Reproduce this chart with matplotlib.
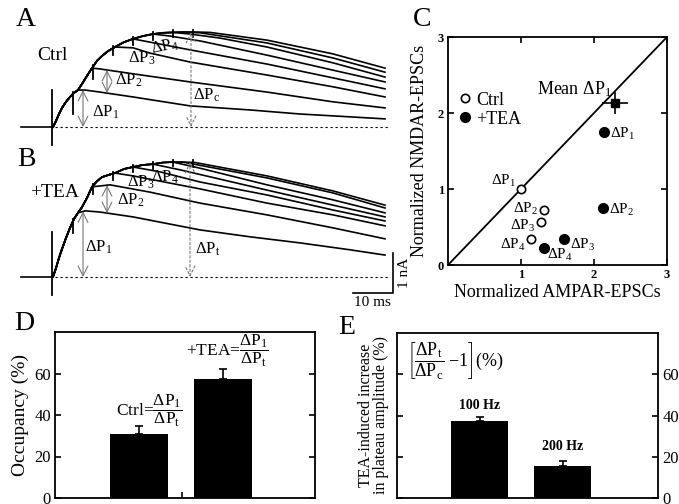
import numpy as np
import matplotlib
matplotlib.use('Agg')
import matplotlib.pyplot as plt

plt.rcParams['font.family'] = 'Liberation Serif'
plt.rcParams['mathtext.fontset'] = 'custom'
plt.rcParams['mathtext.rm'] = 'Liberation Serif'
plt.rcParams['mathtext.it'] = 'Liberation Serif:italic'
plt.rcParams['mathtext.bf'] = 'Liberation Serif:bold'

# ---- panel A / B : ctrl and +TEA current traces (time in ms, current in nA)
env_t = [0, 0.75, 1.5, 2.25, 3.25, 4.25, 5.25, 6.25, 7.25, 8.5, 9.75, 11, 12.25,
         13.75, 15.5, 17.75, 20, 22.5, 25, 27.5, 30, 32.5, 35.5]
envA_i = [0, 0.15, 0.32, 0.47, 0.62, 0.74, 0.84, 0.91, 1.06, 1.26, 1.45, 1.63, 1.75,
          1.87, 1.97, 2.09, 2.17, 2.24, 2.29, 2.32, 2.33, 2.34, 2.34]
envB_i = [0, 0.22, 0.47, 0.69, 0.96, 1.21, 1.43, 1.58, 1.72, 1.95, 2.22, 2.36, 2.46,
          2.51, 2.56, 2.66, 2.71, 2.76, 2.78, 2.82, 2.83, 2.83, 2.82]
branch_idx = [7, 10, 14, 16, 18, 20, 21, 22]

decA_t = [[8, 11.75, 20, 34.25, 49.25, 61.75, 74.25, 83],
          [11.75, 20, 34.25, 53.5, 70, 83],
          [20, 24.25, 34.25, 53.5, 70, 83],
          [24.25, 34.25, 53.5, 70, 83],
          [29.25, 36.75, 53.5, 70, 83],
          [34.25, 41.75, 53.5, 70, 83],
          [36.75, 53.5, 70, 83],
          [39.25, 53.5, 70, 83]]
decA_i = [[0.91, 0.86, 0.74, 0.52, 0.42, 0.32, 0.25, 0.20],
          [1.43, 1.31, 1.11, 0.86, 0.62, 0.47],
          [1.95, 1.82, 1.60, 1.28, 0.99, 0.74],
          [2.09, 1.90, 1.55, 1.21, 0.94],
          [2.24, 2.12, 1.77, 1.40, 1.11],
          [2.29, 2.19, 1.97, 1.58, 1.23],
          [2.32, 2.07, 1.70, 1.35],
          [2.33, 2.14, 1.80, 1.45]]
decB_t = [[8, 11.75, 20, 36.75, 49.25, 61.75, 74.25, 83],
          [14.25, 24.25, 36.75, 53.5, 70, 83],
          [20, 36.75, 53.5, 70, 83],
          [26.75, 36.75, 53.5, 70, 83],
          [31.75, 53.5, 70, 83],
          [36.75, 53.5, 70, 83],
          [53.5, 70, 83],
          [53.5, 70, 83]]
decB_i = [[1.63, 1.60, 1.48, 1.16, 0.99, 0.84, 0.67, 0.54],
          [2.27, 2.09, 1.82, 1.53, 1.21, 0.94],
          [2.49, 2.17, 1.82, 1.53, 1.26],
          [2.59, 2.34, 2.02, 1.65, 1.38],
          [2.64, 2.14, 1.77, 1.48],
          [2.68, 2.27, 1.90, 1.58],
          [2.44, 2.07, 1.70],
          [2.49, 2.12, 1.77]]

pulse_t = [5, 10, 15, 20, 25, 30, 35]
spikeA = [0.5, 0.3, 0.18, 0.15, 0.15, 0.12, 0.12]
spikeB = [0.3, 0.2, 0.15, 0.12, 0.12, 0.1, 0.1]

# ---- panel C
ctrl_x = [1.0, 1.31, 1.28, 1.14]
ctrl_y = [1.0, 0.72, 0.57, 0.34]
tea_x = [2.14, 2.13, 1.59, 1.31]
tea_y = [1.75, 0.75, 0.34, 0.22]
mean_x, mean_y, mean_xerr, mean_yerr = 2.29, 2.13, 0.18, 0.14

# ---- panel D
occ_groups = ['Ctrl', '+TEA']
occ_vals = [30.9, 57.3]
occ_err = [3.8, 4.8]

# ---- panel E
freq_labels = ['100 Hz', '200 Hz']
inc_vals = [37.3, 15.5]
inc_err = [1.9, 2.4]

fig = plt.figure(figsize=(6.79, 5.04), dpi=100)
W, H = 679.0, 504.0


def px_axes(x0, y0, x1, y1):
    return fig.add_axes([x0 / W, 1 - y1 / H, (x1 - x0) / W, (y1 - y0) / H])


def draw_traces(ax, env_i, dec_t, dec_i, spikes):
    for k, b in enumerate(branch_idx):
        t = list(env_t[:b + 1]) + dec_t[k]
        i = list(env_i[:b + 1]) + dec_i[k]
        ax.plot(t, i, color='black', lw=1.2, solid_joinstyle='round')
    ax.plot([-8, 0], [0, 0], color='black', lw=1.2)
    ax.plot([0.5, 84], [0, 0], color='black', lw=0.8, ls=(0, (2, 2.5)))
    for p, d in zip(pulse_t, spikes):
        top = np.interp(p, env_t, env_i)
        ax.plot([p, p], [top + 0.05, top - d], color='black', lw=1.3)
    ax.set_xlim(-8.25, 89.25)
    ax.axis('off')


def dp_arrow(ax, t, y0, y1, ls='-'):
    ax.annotate('', xy=(t, y1), xytext=(t, y0),
                arrowprops=dict(arrowstyle='<->,head_length=0.7,head_width=0.35',
                                color='#777777', lw=0.8, ls=ls,
                                shrinkA=0, shrinkB=0))


dp_fs = 12

# A
axA = px_axes(20, 0, 410, 150)
draw_traces(axA, envA_i, decA_t, decA_i, spikeA)
axA.set_ylim((127 - 150) / 40.6, 127 / 40.6)
axA.plot([-0.3, -0.3], [0.91, -0.44], color='black', lw=1.3, clip_on=False)
t1A = list(env_t[:8]) + decA_t[0]
i1A = list(envA_i[:8]) + decA_i[0]
t2A = list(env_t[:11]) + decA_t[1]
i2A = list(envA_i[:11]) + decA_i[1]
dp_arrow(axA, 7.5, 0, np.interp(7.5, t1A, i1A))
dp_arrow(axA, 13.5, np.interp(13.5, t1A, i1A), np.interp(13.5, t2A, i2A))
dp_arrow(axA, 34.5, 0, 2.34, ls=(0, (2, 2)))
axA.text(-0.25, 1.77, 'Ctrl', fontsize=14, ha='center', va='center')
axA.text(9.75, 0.37, 'ΔP$_1$', fontsize=dp_fs, va='center')
axA.text(15.5, 1.16, 'ΔP$_2$', fontsize=dp_fs, va='center')
axA.text(18.75, 1.70, 'ΔP$_3$', fontsize=dp_fs, va='center')
axA.text(24.0, 1.97, 'ΔP$_4$', fontsize=dp_fs, va='center', rotation=12)
axA.text(35, 0.79, 'ΔP$_\\mathrm{c}$', fontsize=dp_fs, va='center')

# B
axB = px_axes(20, 150, 410, 310)
draw_traces(axB, envB_i, decB_t, decB_i, spikeB)
axB.set_ylim((277 - 310) / 40.6, 127 / 40.6)
axB.plot([-0.3, -0.3], [1.11, -0.44], color='black', lw=1.3, clip_on=False)
t1B = list(env_t[:8]) + decB_t[0]
i1B = list(envB_i[:8]) + decB_i[0]
t2B = list(env_t[:11]) + decB_t[1]
i2B = list(envB_i[:11]) + decB_i[1]
dp_arrow(axB, 7.5, 0, np.interp(7.5, t1B, i1B))
dp_arrow(axB, 13.5, np.interp(13.5, t1B, i1B), np.interp(13.5, t2B, i2B))
dp_arrow(axB, 34.25, 0, 2.83, ls=(0, (2, 2)))
axB.text(0.5, 2.07, '+TEA', fontsize=14, ha='center', va='center')
axB.text(16, 1.90, 'ΔP$_2$', fontsize=dp_fs, va='center')
axB.text(8, 0.74, 'ΔP$_1$', fontsize=dp_fs, va='center')
axB.text(18.5, 2.34, 'ΔP$_3$', fontsize=dp_fs, va='center')
axB.text(24.6, 2.46, 'ΔP$_4$', fontsize=dp_fs, va='center')
axB.text(35.5, 0.67, 'ΔP$_\\mathrm{t}$', fontsize=dp_fs, va='center')
# scale bar
axB.plot([74.9, 84.9, 84.9], [-0.40, -0.40, 0.60], color='black', lw=1.2, clip_on=False)
axB.text(79.9, -0.62, '10 ms', fontsize=11, ha='center', va='center')
axB.text(87.9, 0.10, '1 nA', fontsize=11, ha='center', va='center', rotation=90)

# C
axC = px_axes(448, 37, 667, 265)
axC.plot([0, 3], [0, 3], color='black', lw=1.3)
axC.plot(ctrl_x, ctrl_y, 'o', mfc='white', mec='black', mew=1.2, ms=6, label='Ctrl')
axC.plot(tea_x, tea_y, 'o', color='black', ms=7, label='+TEA')
axC.errorbar(mean_x, mean_y, xerr=mean_xerr, yerr=mean_yerr, fmt='s',
             color='black', ms=6, lw=1.2, capsize=0)
axC.set_xlim(0, 3)
axC.set_ylim(0, 3)
axC.set_xticks([1, 2, 3])
axC.set_yticks([0, 1, 2, 3])
axC.tick_params(direction='in', top=True, right=True, length=4, width=1.2,
                labelsize=9, pad=3)
for lab in axC.get_xticklabels() + axC.get_yticklabels():
    lab.set_fontweight('bold')
for s in axC.spines.values():
    s.set_linewidth(1.3)
axC.set_xlabel('Normalized AMPAR-EPSCs', fontsize=13, labelpad=2)
axC.set_ylabel('Normalized NMDAR-EPSCs', fontsize=13, labelpad=7)
axC.legend(loc='upper left', bbox_to_anchor=(-0.005, 0.815), frameon=False,
           handlelength=0.6, handletextpad=0.3, labelspacing=0.1,
           borderpad=0.2, fontsize=13)
c_fs = 11
for x, y, txt in zip([0.93, 1.24, 1.2, 1.06], [1.1, 0.74, 0.52, 0.27],
                     ['ΔP$_1$', 'ΔP$_2$', 'ΔP$_3$', 'ΔP$_4$']):
    axC.text(x, y, txt, fontsize=c_fs, ha='right', va='center')
for x, y, txt in zip([2.22, 2.21, 1.67, 1.36], [1.72, 0.72, 0.27, 0.13],
                     ['ΔP$_1$', 'ΔP$_2$', 'ΔP$_3$', 'ΔP$_4$']):
    axC.text(x, y, txt, fontsize=c_fs, ha='left', va='center')
axC.text(2.24, 2.32, 'Mean ΔP$_1$', fontsize=13, ha='right', va='center')

# D
axD = px_axes(55, 332, 315, 498)
xpos = np.arange(1, len(occ_vals) + 1)
axD.bar(xpos, occ_vals, width=0.69, color='black')
axD.errorbar(xpos, occ_vals, yerr=[np.zeros(len(occ_err)), occ_err], fmt='none',
             ecolor='black', lw=1.2, capsize=3, capthick=1.2)
axD.set_xlim(0, 3.1)
axD.set_ylim(0, 80)
axD.set_yticks([0, 20, 40, 60])
axD.set_xticks([1.52])
axD.set_xticklabels([''])
axD.tick_params(direction='in', right=True, length=4, width=1.2, labelsize=12, pad=3)
for s in axD.spines.values():
    s.set_linewidth(1.3)
axD.set_ylabel('Occupancy (%)', fontsize=14, labelpad=4)
axD.text(1.12, 42, r'Ctrl=$\dfrac{\Delta\mathrm{P}_1}{\Delta\mathrm{P}_\mathrm{t}}$',
         fontsize=12.5, ha='center', va='center')
axD.text(2.05, 71, r'+TEA=$\dfrac{\Delta\mathrm{P}_1}{\Delta\mathrm{P}_\mathrm{t}}$',
         fontsize=12.5, ha='center', va='center')

# E
axE = px_axes(397, 333, 658, 498)
xpos = np.arange(1, len(inc_vals) + 1)
axE.bar(xpos, inc_vals, width=0.69, color='black')
axE.errorbar(xpos, inc_vals, yerr=[np.zeros(len(inc_err)), inc_err], fmt='none',
             ecolor='black', lw=1.2, capsize=3, capthick=1.2)
axE.set_xlim(0, 3.15)
axE.set_ylim(0, 80)
axE.set_yticks([0, 20, 40, 60])
axE.set_xticks([])
axE.yaxis.tick_right()
axE.tick_params(direction='in', left=True, right=True, length=4, width=1.2,
                labelsize=12, pad=3)
for s in axE.spines.values():
    s.set_linewidth(1.3)
for x, y, txt in zip(xpos, [45, 25], freq_labels):
    axE.text(x, y, txt, fontsize=10, fontweight='bold', ha='center', va='center')
axE.text(0.12, 66, r'$\left[\dfrac{\Delta\mathrm{P}_\mathrm{t}}{\Delta\mathrm{P}_\mathrm{c}}\ \mathrm{-1}\right]$(%)',
         fontsize=13, ha='left', va='center')
axE.text(-0.09, 0.5, 'TEA-induced increase\nin plateau amplitude (%)', fontsize=11.5,
         rotation=90, ha='center', va='center', transform=axE.transAxes,
         linespacing=0.95)

# panel letters
for x, y, letter in [(26, 20, 'A'), (26, 160, 'B'), (422, 20, 'C'),
                     (24, 324, 'D'), (347, 328, 'E')]:
    fig.text(x / W, 1 - y / H, letter, fontsize=20, ha='center', va='center')

fig.savefig('out.png', dpi=100)
